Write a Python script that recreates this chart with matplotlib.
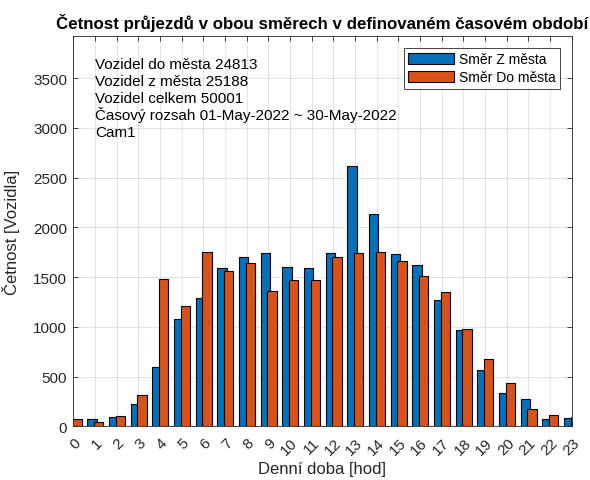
import numpy as np
import matplotlib
matplotlib.use("Agg")
import matplotlib.pyplot as plt
from matplotlib.transforms import ScaledTranslation

plt.rcParams['font.family'] = ['Liberation Sans', 'DejaVu Sans']

hours = np.arange(24)
# Směr Z města (from city), Směr Do města (to city)
z_mesta = [65, 70, 93, 220, 598, 1076, 1290, 1595, 1705, 1741, 1601, 1595,
           1745, 2614, 2129, 1735, 1625, 1274, 966, 565, 331, 271, 70, 80]
do_mesta = [70, 43, 100, 314, 1484, 1213, 1748, 1565, 1638, 1364, 1467, 1474,
            1705, 1741, 1755, 1658, 1511, 1354, 979, 672, 434, 174, 110, 96]
info_lines = [
    "Vozidel do města 24813",
    "Vozidel z města 25188",
    "Vozidel celkem 50001",
    "Časový rozsah 01-May-2022 ~ 30-May-2022",
    "Cam1",
]

dark = '#262626'
fig = plt.figure(figsize=(5.9, 4.81), dpi=100)
ax = fig.add_axes([0.1242, 0.1117, 0.8447, 0.8108])

ax.bar(hours - 0.14, z_mesta, width=0.43, color='#0072BD', edgecolor='black',
       linewidth=0.8, label='Směr Z města')
ax.bar(hours + 0.17, do_mesta, width=0.43, color='#D95319', edgecolor='black',
       linewidth=0.8, label='Směr Do města')

ax.set_xlim(0, 23)
ax.set_ylim(0, 3920)
ax.set_xticks(hours)
ax.set_yticks(np.arange(0, 3501, 500))
ax.set_axisbelow(True)
ax.grid(True, color=dark, alpha=0.15, linewidth=0.6)

ax.tick_params(direction='in', top=True, right=True, length=3.6, width=0.6,
               color=dark, labelcolor=dark, labelsize=11)
ax.tick_params(axis='y', pad=4.5)
ax.tick_params(axis='x', pad=10)
offset = ScaledTranslation(0.053, 0, fig.dpi_scale_trans)
for lab in ax.get_xticklabels():
    lab.set_rotation(45)
    lab.set_ha('right')
    lab.set_va('center')
    lab.set_rotation_mode('anchor')
    lab.set_transform(lab.get_transform() + offset)

for sp in ax.spines.values():
    sp.set_color(dark)
    sp.set_linewidth(0.6)

ax.set_title("Četnost průjezdů v obou směrech v definovaném časovém období",
             fontsize=12.2, fontweight='bold', pad=6)
ax.set_xlabel("Denní doba [hod]", fontsize=12, color=dark)
ax.set_ylabel("Četnost [Vozidla]", fontsize=12, color=dark)
ax.xaxis.set_label_coords(0.5, -0.09)
ax.yaxis.set_label_coords(-0.107, 0.5)

# info block, one line at a time so spacing stays even
for i, line in enumerate(info_lines):
    ax.text(0.044, 0.918 - i * 0.0432, line, transform=ax.transAxes,
            va='baseline', ha='left', fontsize=11, color='black')

leg = ax.legend(loc='upper right', bbox_to_anchor=(560 / 590, 1 - 49 / 481),
                bbox_transform=fig.transFigure, borderaxespad=0, fontsize=10,
                fancybox=False, framealpha=1, edgecolor=dark,
                handlelength=3.25, handleheight=0.87, handletextpad=0.4,
                labelspacing=0.3, borderpad=0.3)
leg.get_frame().set_linewidth(0.6)

fig.savefig("out.png", dpi=100)
